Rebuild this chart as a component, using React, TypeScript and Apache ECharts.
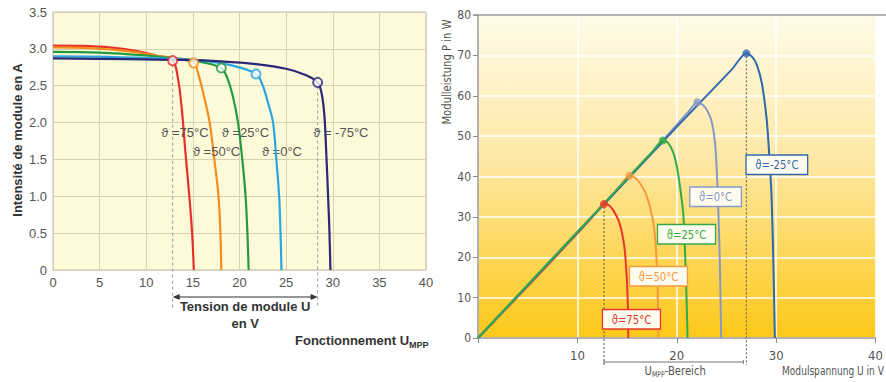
import React, { useEffect, useRef } from "react";
import * as echarts from "echarts";

// ---------- Left chart: I-V curves (Intensité vs Tension) ----------
const ivLabels = ["ϑ =75°C", "ϑ =50°C", "ϑ =25°C", "ϑ =0°C", "ϑ = -75°C"];
const ivColors = ["#e8302a", "#f58c1e", "#259a45", "#2ba6e1", "#2c2878"];
const ivT75 = [[0, 3.045], [3, 3.04], [6, 3.02], [9, 2.97], [11, 2.91], [12.83, 2.84], [13.4, 2.6], [13.8, 2.2], [14.2, 1.6], [14.62, 1.0], [14.92, 0.5], [15.1, 0]];
const ivT50 = [[0, 3.02], [4, 3.01], [8, 2.97], [11, 2.91], [13, 2.87], [15.08, 2.81], [15.6, 2.65], [16.2, 2.35], [16.8, 2.0], [17.3, 1.5], [17.75, 1.0], [17.95, 0.5], [18.05, 0]];
const ivT25 = [[0, 2.96], [5, 2.95], [10, 2.91], [14, 2.86], [16, 2.82], [18.05, 2.74], [18.7, 2.6], [19.3, 2.35], [19.84, 2.0], [20.3, 1.5], [20.65, 1.0], [20.85, 0.5], [20.98, 0]];
const ivT0 = [[0, 2.9], [6, 2.89], [12, 2.87], [16, 2.84], [19, 2.78], [21.77, 2.66], [22.5, 2.5], [23.1, 2.25], [23.6, 2.0], [23.95, 1.5], [24.25, 1.0], [24.4, 0.5], [24.5, 0]];
const ivTm75 = [[0, 2.87], [8, 2.86], [14, 2.85], [18, 2.83], [22, 2.79], [25, 2.73], [27, 2.65], [28.38, 2.545], [28.8, 2.4], [29.1, 2.1], [29.3, 1.6], [29.5, 1.0], [29.65, 0.5], [29.75, 0]];
const ivCurves = [ivT75, ivT50, ivT25, ivT0, ivTm75];
const ivMpp = [[12.83, 2.84], [15.08, 2.81], [18.05, 2.74], [21.77, 2.66], [28.38, 2.545]];
const ivLabelAnchors = [[11.6, 1.87], [15.0, 1.61], [18.1, 1.87], [22.4, 1.61], [27.9, 1.87]];

// ---------- Right chart: P-V curves (Modulleistung vs Modulspannung) ----------
const pvLabels = ["ϑ=75°C", "ϑ=50°C", "ϑ=25°C", "ϑ=0°C", "ϑ=-25°C"];
const pvColors = ["#e8362c", "#f59a3e", "#35a84a", "#8798c6", "#2f68ad"];
const pvT75 = [[0, 0], [6, 15.4], [10, 25.9], [11.9, 31.1], [12.68, 33.2], [13.1, 33.0], [13.57, 31.8], [14.23, 28.5], [14.72, 22.7], [14.98, 14.4], [15.1, 6], [15.12, 0]];
const pvT50 = [[0, 0], [8, 21.0], [13, 34.2], [14.3, 37.7], [15.22, 40.2], [15.6, 40.0], [16.04, 39.2], [16.86, 35.9], [17.52, 30.1], [17.85, 24.0], [18.05, 14.0], [18.15, 0]];
const pvT25 = [[0, 0], [6, 15.8], [12, 31.5], [16, 42.1], [17.6, 46.3], [18.6, 48.9], [19.1, 48.4], [19.6, 46.2], [20.0, 42.5], [20.32, 37.5], [20.65, 30.9], [20.85, 20.0], [20.98, 10.0], [21.08, 0]];
const pvT0 = [[0, 0], [10, 26.2], [18, 47.3], [21.2, 56.1], [22.07, 58.4], [22.63, 57.7], [23.12, 56.1], [23.55, 53.2], [23.88, 47.4], [24.11, 36.7], [24.32, 20.0], [24.47, 0]];
const pvTm25 = [[0, 0], [10, 26.1], [20, 52.3], [25.5, 66.4], [27.0, 70.5], [27.57, 69.7], [28.06, 67.6], [28.56, 63.1], [29.05, 54.0], [29.31, 45.0], [29.55, 34.2], [29.75, 15.0], [29.87, 0]];
const pvCurves = [pvT75, pvT50, pvT25, pvT0, pvTm25];
const pvMpp = [[12.68, 33.2], [15.22, 40.2], [18.6, 48.9], [22.07, 58.4], [27.0, 70.5]];
const pvLabelAnchors = [[15.44, 4.65], [18.16, 15.3], [20.98, 25.7], [23.9, 35.0], [30.07, 42.9]];
const pvDrawOrder = [0, 1, 3, 4, 2];

const SANS = '"Liberation Sans", Arial, Helvetica, sans-serif';
const NARROW = '"Liberation Sans Narrow", "DejaVu Sans Condensed", "Liberation Sans", Arial, sans-serif';
const SQ = 0.86; // horizontal squeeze to mimic the condensed face

function measure(text: string, font: string): number {
  const c = document.createElement("canvas");
  const ctx = c.getContext("2d")!;
  ctx.font = font;
  return ctx.measureText(text).width;
}

export default function App() {
  const ref = useRef<HTMLDivElement>(null);
  useEffect(() => {
    const chart = echarts.init(ref.current!, null, { renderer: "svg", width: 886, height: 382 });
    const series: any[] = [];
    ivCurves.forEach((d, i) => {
      series.push({
        type: "line", xAxisIndex: 0, yAxisIndex: 0, data: d, smooth: 0.35, showSymbol: false,
        lineStyle: { color: ivColors[i], width: 2.2 }, z: 3 + i,
      });
    });
    ivMpp.forEach((p, i) => {
      series.push({
        type: "scatter", xAxisIndex: 0, yAxisIndex: 0, data: [p], symbolSize: 9, z: 10,
        itemStyle: { color: "#ffffff", borderColor: ivColors[i], borderWidth: 2 },
      });
    });
    pvDrawOrder.forEach((i, k) => {
      series.push({
        type: "line", xAxisIndex: 1, yAxisIndex: 1, data: pvCurves[i], smooth: 0.25, showSymbol: false,
        lineStyle: { color: pvColors[i], width: 2 }, z: 3 + k,
      });
    });
    pvMpp.forEach((p, i) => {
      series.push({
        type: "scatter", xAxisIndex: 1, yAxisIndex: 1, data: [p], symbolSize: 8, z: 10,
        itemStyle: { color: pvColors[i] },
      });
    });

    chart.setOption({
      animation: false,
      grid: [
        { left: 53, top: 12, width: 373, height: 258, show: true, backgroundColor: "#fcfad8", borderColor: "#bcbbb0", borderWidth: 1 },
        {
          left: 478, top: 15, width: 404, height: 323, show: true, borderWidth: 0,
          backgroundColor: new echarts.graphic.LinearGradient(0, 0, 0, 1, [
            { offset: 0, color: "#fffbe8" },
            { offset: 0.45, color: "#fee8a4" },
            { offset: 1, color: "#fdc818" },
          ]),
        },
      ],
      xAxis: [
        {
          type: "value", gridIndex: 0, min: 0, max: 40, interval: 5,
          axisLine: { show: false }, axisTick: { show: false },
          axisLabel: { color: "#555", fontSize: 13, margin: 6, fontFamily: SANS },
          splitLine: { show: true, lineStyle: { color: "#d6d3b3", width: 1 } },
        },
        {
          type: "value", gridIndex: 1, min: 0, max: 40, interval: 10,
          axisLine: { show: true, lineStyle: { color: "#9a9a9a", width: 1.5 } },
          axisTick: { show: true, length: 5, lineStyle: { color: "#8a8a8a" } },
          axisLabel: { color: "#555", fontSize: 13, margin: 11, fontFamily: NARROW, formatter: (v: number) => (v === 0 ? "" : String(v)) },
          splitLine: { show: true, lineStyle: { color: "#ffffff", width: 1.5 } },
        },
      ],
      yAxis: [
        {
          type: "value", gridIndex: 0, min: 0, max: 3.5, interval: 0.5,
          axisLine: { show: false }, axisTick: { show: false },
          axisLabel: { color: "#555", fontSize: 13, margin: 6, fontFamily: SANS, formatter: (v: number) => (v === 0 ? "0" : v.toFixed(1)) },
          splitLine: { show: true, lineStyle: { color: "#d6d3b3", width: 1 } },
        },
        {
          type: "value", gridIndex: 1, min: 0, max: 80, interval: 10,
          axisLine: { show: true, lineStyle: { color: "#9a9a9a", width: 1.5 } },
          axisTick: { show: true, length: 5, lineStyle: { color: "#8a8a8a" } },
          axisLabel: { color: "#555", fontSize: 12, margin: 7, fontFamily: NARROW },
          splitLine: { show: true, lineStyle: { color: "#ffffff", width: 1.5 } },
        },
      ],
      series,
    });

    const L = (pt: number[]) => chart.convertToPixel({ gridIndex: 0 }, pt) as number[];
    const R = (pt: number[]) => chart.convertToPixel({ gridIndex: 1 }, pt) as number[];
    const g: any[] = [];

    // Left: dashed verticals from the extreme MPPs, arrow, texts
    const lA = L(ivMpp[0]);
    const lB = L(ivMpp[4]);
    [lA, lB].forEach((p) => {
      g.push({ type: "line", z: 1, shape: { x1: p[0], y1: p[1] + 4, x2: p[0], y2: 308 }, style: { stroke: "#9a9a9a", lineWidth: 1, lineDash: [3, 3] } });
    });
    const ay = 297;
    g.push({ type: "line", z: 5, shape: { x1: lA[0] + 5, y1: ay, x2: lB[0] - 5, y2: ay }, style: { stroke: "#333", lineWidth: 1.2 } });
    g.push({ type: "polygon", z: 5, shape: { points: [[lA[0], ay], [lA[0] + 7, ay - 3], [lA[0] + 7, ay + 3]] }, style: { fill: "#333" } });
    g.push({ type: "polygon", z: 5, shape: { points: [[lB[0], ay], [lB[0] - 7, ay - 3], [lB[0] - 7, ay + 3]] }, style: { fill: "#333" } });
    const bold13 = `bold 13px ${SANS}`;
    const midX = (lA[0] + lB[0]) / 2;
    g.push({ type: "text", z: 5, x: midX, y: 306, style: { text: "Tension de module U", font: bold13, fill: "#333", align: "center", verticalAlign: "middle" } });
    g.push({ type: "text", z: 5, x: midX, y: 323, style: { text: "en V", font: bold13, fill: "#333", align: "center", verticalAlign: "middle" } });
    const fTxt = "Fonctionnement U";
    const fW = measure(fTxt, bold13);
    g.push({ type: "text", z: 5, x: 295, y: 340, style: { text: fTxt, font: bold13, fill: "#333", align: "left", verticalAlign: "middle" } });
    g.push({ type: "text", z: 5, x: 295 + fW, y: 345, style: { text: "MPP", font: `bold 9px ${SANS}`, fill: "#333", align: "left", verticalAlign: "middle" } });
    g.push({ type: "text", z: 5, x: 17, y: 140, rotation: Math.PI / 2, style: { text: "Intensité de module en A", font: bold13, fill: "#333", align: "center", verticalAlign: "middle" } });
    ivLabels.forEach((t, i) => {
      const p = L(ivLabelAnchors[i]);
      g.push({ type: "text", z: 6, x: p[0], y: p[1], style: { text: t, font: `13px ${SANS}`, fill: "#555", align: "left", verticalAlign: "middle" } });
    });

    // Right: top border, dotted verticals, bracket, texts, labelled boxes
    const r0 = R([0, 80]);
    g.push({ type: "line", z: 5, shape: { x1: r0[0] - 5, y1: r0[1], x2: 886, y2: r0[1] }, style: { stroke: "#9a9a9a", lineWidth: 1.5 } });
    const rA = R(pvMpp[0]);
    const rB = R(pvMpp[4]);
    [rA, rB].forEach((p) => {
      g.push({ type: "line", z: 2, shape: { x1: p[0], y1: p[1] + 3, x2: p[0], y2: 365 }, style: { stroke: "#555", lineWidth: 1, lineDash: [2, 2] } });
    });
    g.push({ type: "line", z: 5, shape: { x1: rA[0], y1: 362, x2: rB[0] - 3, y2: 362 }, style: { stroke: "#777", lineWidth: 1.2 } });
    g.push({ type: "line", z: 5, shape: { x1: rA[0], y1: 360, x2: rA[0], y2: 364 }, style: { stroke: "#777", lineWidth: 1 } });
    g.push({ type: "line", z: 5, shape: { x1: rB[0] - 3, y1: 360, x2: rB[0] - 3, y2: 364 }, style: { stroke: "#777", lineWidth: 1 } });
    const n13 = `13px ${NARROW}`;
    const n8 = `8px ${NARROW}`;
    const w1 = measure("U", n13) * SQ;
    const w2 = measure("MPP", n8) * SQ;
    const w3 = measure("-Bereich", n13) * SQ;
    const bx = (rA[0] + rB[0]) / 2 - (w1 + w2 + w3) / 2;
    g.push({ type: "text", z: 5, x: bx, y: 371, scaleX: SQ, style: { text: "U", font: n13, fill: "#555", align: "left", verticalAlign: "middle" } });
    g.push({ type: "text", z: 5, x: bx + w1, y: 374, scaleX: SQ, style: { text: "MPP", font: n8, fill: "#555", align: "left", verticalAlign: "middle" } });
    g.push({ type: "text", z: 5, x: bx + w1 + w2, y: 371, scaleX: SQ, style: { text: "-Bereich", font: n13, fill: "#555", align: "left", verticalAlign: "middle" } });
    const mTxt = "Modulspannung U in V";
    const mW = measure(mTxt, n13);
    const mS = Math.min(SQ, (884 - 782) / mW);
    g.push({ type: "text", z: 5, x: 782, y: 371, scaleX: mS, style: { text: mTxt, font: n13, fill: "#555", align: "left", verticalAlign: "middle" } });
    g.push({ type: "text", z: 5, x: 447, y: 72, rotation: Math.PI / 2, scaleX: SQ, style: { text: "Modulleistung P in W", font: n13, fill: "#555", align: "center", verticalAlign: "middle" } });
    pvLabels.forEach((t, i) => {
      const p = R(pvLabelAnchors[i]);
      g.push({
        type: "text", z: 12, x: p[0], y: p[1], scaleX: SQ,
        style: {
          text: t, font: `13px ${NARROW}`, fill: pvColors[i], align: "center", verticalAlign: "middle",
          backgroundColor: "#fffcf0", borderColor: pvColors[i], borderWidth: 1.5, padding: [3, 10, 2, 10],
        },
      });
    });

    chart.setOption({ graphic: g });
    return () => chart.dispose();
  }, []);
  return <div ref={ref} style={{ position: "fixed", left: 0, top: 0, width: 886, height: 382, background: "#ffffff" }} />;
}
